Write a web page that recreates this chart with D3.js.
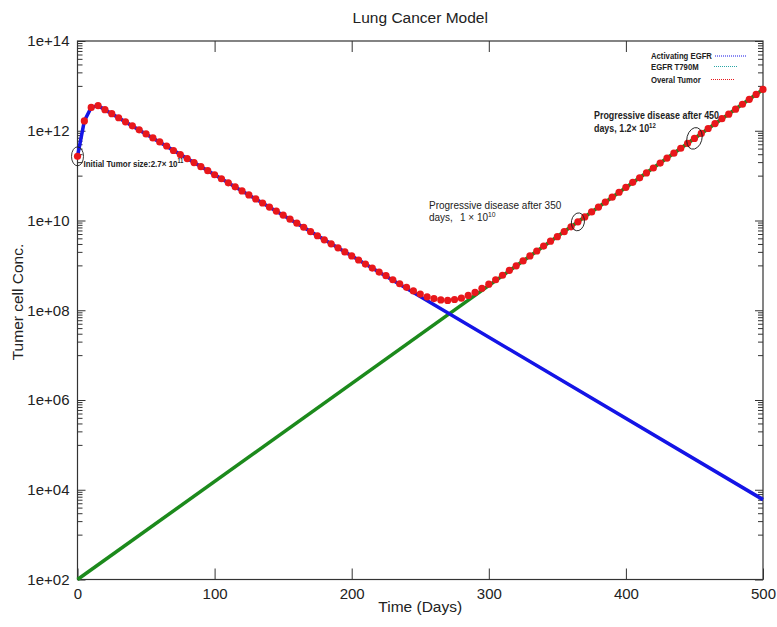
<!DOCTYPE html>
<html><head><meta charset="utf-8">
<script src="https://cdn.jsdelivr.net/npm/d3@7/dist/d3.min.js"></script>
<style>body{margin:0;background:#fff}</style>
</head><body>
<svg id="chart" width="777" height="627"></svg>
<script>
// ---- data (tumour cell concentration given as log10 values) ----
const overallDays = [0,5,10,15,20,25,30,35,40,45,50,55,60,65,70,75,80,85,90,95,100,105,110,115,120,125,130,135,140,145,150,155,160,165,170,175,180,185,190,195,200,205,210,215,220,225,230,235,240,245,250,255,260,265,270,275,280,285,290,295,300,305,310,315,320,325,330,335,340,345,350,355,360,365,370,375,380,385,390,395,400,405,410,415,420,425,430,435,440,445,450,455,460,465,470,475,480,485,490,495,500];
const overallLog10 = [11.43,12.22,12.52,12.56,12.47,12.38,12.29,12.20,12.11,12.02,11.93,11.84,11.75,11.66,11.56,11.47,11.38,11.29,11.20,11.11,11.02,10.93,10.84,10.75,10.66,10.57,10.48,10.39,10.30,10.21,10.12,10.03,9.94,9.85,9.75,9.66,9.57,9.48,9.39,9.30,9.21,9.12,9.03,8.94,8.85,8.77,8.68,8.59,8.51,8.43,8.36,8.30,8.26,8.23,8.22,8.24,8.27,8.33,8.40,8.49,8.58,8.68,8.78,8.89,8.99,9.10,9.21,9.32,9.43,9.54,9.64,9.75,9.86,9.97,10.08,10.19,10.30,10.41,10.52,10.63,10.74,10.85,10.95,11.06,11.17,11.28,11.39,11.50,11.61,11.72,11.83,11.94,12.05,12.16,12.27,12.37,12.48,12.59,12.70,12.81,12.92];
const activatingDays = [0,5,10,15,500];
const activatingLog10 = [11.43,12.22,12.52,12.56,3.78];
const t790mDays = [0,500];
const t790mLog10 = [2.0,12.92];
const xTickValues = [0,100,200,300,400,500];
const yMajorExponents = [2,4,6,8,10,12,14];
const yMinorExponents = [3,5,7,9,11,13];
const legendLabels = ["Activating EGFR","EGFR T790M","Overal Tumor"];
const titleText = "Lung Cancer Model";
const xLabel = "Time (Days)";
const yLabel = "Tumer cell Conc.";
const annotationDays = [0,365,450];

// ---- styles ----
const colBlue = "#1414e6", colGreen = "#1c8a1c", colRed = "#e8171b";
const FONT = "'Liberation Sans', Arial, Helvetica, sans-serif";

const svg = d3.select("#chart");
const L = 77.5, R = 763, T = 41, B = 579.5;
const x = d3.scaleLinear().domain([0,500]).range([L,R]);
const y = d3.scaleLog().domain([1e2,1e14]).range([B,T]);
const pow = v => Math.pow(10, v);

// minor tick values
const minorVals = [];
yMinorExponents.forEach(e => { for (let k = 1; k <= 9; k++) minorVals.push(k * pow(e)); });

const axisColor = "#333";
function styleAxis(g){ g.select(".domain").remove(); g.selectAll("line").attr("stroke",axisColor); g.selectAll("text").attr("fill","#222").style("font-family",FONT).style("font-size","15px"); }

// bottom & top x axes
svg.append("g").attr("transform",`translate(0,${B})`)
  .call(d3.axisBottom(x).tickValues(xTickValues).tickSize(-11).tickPadding(9).tickFormat(d3.format("d")))
  .call(styleAxis);
svg.append("g").attr("transform",`translate(0,${T})`)
  .call(d3.axisTop(x).tickValues(xTickValues.slice(1,-1)).tickSize(-11).tickFormat(""))
  .call(styleAxis);
// left & right y axes
svg.append("g").attr("transform",`translate(${L},0)`)
  .call(d3.axisLeft(y).tickValues(yMajorExponents.map(pow)).tickSize(-8).tickPadding(8)
    .tickFormat(d => { const e = Math.round(Math.log10(d)); return "1e+" + (e < 10 ? "0" + e : e); }))
  .call(styleAxis);
svg.append("g").attr("transform",`translate(${L},0)`)
  .call(d3.axisLeft(y).tickValues(minorVals).tickSize(-5).tickFormat("")).call(styleAxis);
svg.append("g").attr("transform",`translate(${R},0)`)
  .call(d3.axisRight(y).tickValues(yMajorExponents.map(pow)).tickSize(-8).tickFormat("")).call(styleAxis);
svg.append("g").attr("transform",`translate(${R},0)`)
  .call(d3.axisRight(y).tickValues(minorVals).tickSize(-5).tickFormat("")).call(styleAxis);

// frame
svg.append("rect").attr("x",L).attr("y",T).attr("width",R-L).attr("height",B-T)
  .attr("fill","none").attr("stroke",axisColor).attr("stroke-width",1.2);

// lines
const line = d3.line().x(d => x(d[0])).y(d => y(pow(d[1])));
svg.append("path").datum(t790mDays.map((d,i)=>[d,t790mLog10[i]]))
  .attr("d",line).attr("fill","none").attr("stroke",colGreen).attr("stroke-width",3.5);
svg.append("path").datum(activatingDays.map((d,i)=>[d,activatingLog10[i]]))
  .attr("d",line).attr("fill","none").attr("stroke",colBlue).attr("stroke-width",3.5);

// overall tumour dots
svg.append("g").selectAll("circle").data(overallDays.map((d,i)=>[d,overallLog10[i]])).join("circle")
  .attr("cx",d=>x(d[0])).attr("cy",d=>y(pow(d[1]))).attr("r",3.6).attr("fill",colRed);

// titles
svg.append("text").attr("x",(L+R)/2).attr("y",23).attr("text-anchor","middle")
  .style("font-family",FONT).style("font-size","15.5px").attr("fill","#222").text(titleText);
svg.append("text").attr("x",(L+R)/2).attr("y",612).attr("text-anchor","middle")
  .style("font-family",FONT).style("font-size","15.5px").attr("fill","#222").text(xLabel);
svg.append("text").attr("transform","translate(23,302) rotate(-90)").attr("text-anchor","middle")
  .style("font-family",FONT).style("font-size","15.5px").attr("fill","#222").text(yLabel);

// annotations: ellipses around data points
const ptY = d => y(pow(overallLog10[overallDays.indexOf(d)]));
const ellipses = [[0,6,9.5,0],[365,6.5,9,10],[450,7.5,11,15]];
ellipses.forEach(([d,rx,ry,rot]) => {
  svg.append("ellipse").attr("cx",0).attr("cy",0).attr("rx",rx).attr("ry",ry)
    .attr("transform",`translate(${x(d)},${ptY(d)}) rotate(${rot})`)
    .attr("fill","none").attr("stroke","#222").attr("stroke-width",0.9);
});

// text helper (sx < 1 gives a condensed look like the reference's narrow font)
function label(xp, yp, parts, size, weight, sx){
  const t = svg.append("text").attr("transform",`translate(${xp},${yp}) scale(${sx},1)`)
    .style("font-family",FONT).style("font-size",size+"px").style("font-weight",weight).attr("fill","#222");
  parts.forEach(p => {
    if (p.sup) t.append("tspan").attr("dy",-size*0.4).style("font-size",(size*0.68)+"px").text(p.s);
    else t.append("tspan").text(p.s);
  });
  return t;
}
// initial tumour
label(x(annotationDays[0])+6, 166.5, [{s:"Initial Tumor size:2.7\u00d7 10"},{s:"11",sup:true}], 9.5, "bold", 0.84);
// 350
label(429, 209, [{s:"Progressive disease after 350"}], 10, "normal", 1);
label(429, 221, [{s:"days,"}], 10, "normal", 1);
label(460, 221, [{s:"1 \u00d7 10"},{s:"10",sup:true}], 10, "normal", 1);
// 450
label(594, 118.5, [{s:"Progressive disease after 450"}], 10, "bold", 0.89);
label(594, 132, [{s:"days, 1.2\u00d7 10"},{s:"12",sup:true}], 10, "bold", 0.89);

// legend
const legColors = [colBlue,"#2aa6a6",colRed];
const legY = [59,69.5,82.5];
const legX1 = [715,714,711], legX2 = [747,738,735];
legendLabels.forEach((lab,i) => {
  label(651, legY[i], [{s:lab}], 9, "bold", 0.86);
  svg.append("line").attr("x1",legX1[i]).attr("x2",legX2[i]).attr("y1",legY[i]-3).attr("y2",legY[i]-3)
    .attr("stroke",legColors[i]).attr("stroke-width",1.2).attr("stroke-dasharray","1,1");
});
</script>
</body></html>
